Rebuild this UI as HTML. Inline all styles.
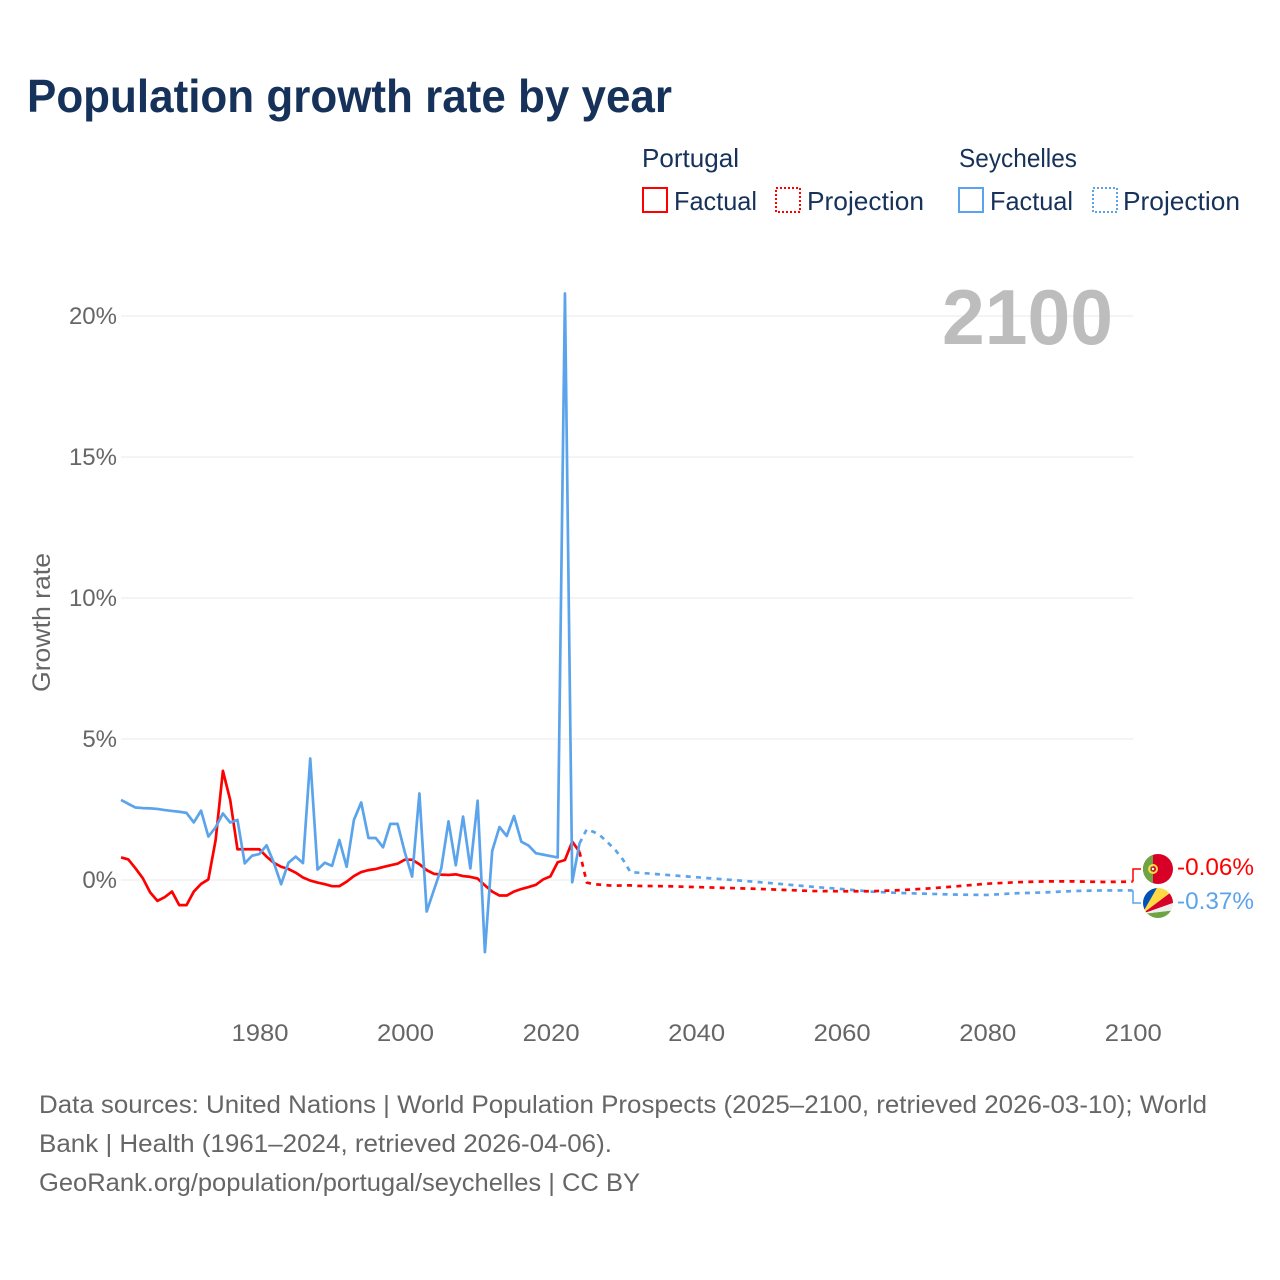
<!DOCTYPE html>
<html lang="en">
<head>
<meta charset="utf-8">
<title>Population growth rate by year</title>
<style>
  html, body { margin: 0; padding: 0; background: #fff; }
  svg { display: block; font-family: "Liberation Sans", sans-serif; }
</style>
</head>
<body>
<svg id="chart" xmlns="http://www.w3.org/2000/svg" width="1280" height="1280" viewBox="0 0 1280 1280">
  <text x="27" y="112" font-size="46" font-weight="700" fill="#17325a" textLength="645" lengthAdjust="spacingAndGlyphs">Population growth rate by year</text>

  <g font-size="26" fill="#17325a">
    <text x="642" y="167" textLength="97" lengthAdjust="spacingAndGlyphs">Portugal</text>
    <text x="959" y="167" textLength="118" lengthAdjust="spacingAndGlyphs">Seychelles</text>
    <g>
      <rect x="643" y="188" width="24" height="24" fill="none" stroke="#ff0000" stroke-width="2"/>
      <text x="674" y="210" textLength="83" lengthAdjust="spacingAndGlyphs">Factual</text>
    </g>
    <g>
      <rect x="776" y="188" width="24" height="24" fill="none" stroke="#ff0000" stroke-width="2" stroke-dasharray="2 2"/>
      <text x="807" y="210" textLength="117" lengthAdjust="spacingAndGlyphs">Projection</text>
    </g>
    <g>
      <rect x="959" y="188" width="24" height="24" fill="none" stroke="#5ba4ec" stroke-width="2"/>
      <text x="990" y="210" textLength="83" lengthAdjust="spacingAndGlyphs">Factual</text>
    </g>
    <g>
      <rect x="1093" y="188" width="24" height="24" fill="none" stroke="#5ba4ec" stroke-width="2" stroke-dasharray="2 2"/>
      <text x="1123" y="210" textLength="117" lengthAdjust="spacingAndGlyphs">Projection</text>
    </g>
  </g>

  <g id="grid"></g>
  <g id="y-ticks" font-size="24" fill="#666666" text-anchor="end"></g>
  <g id="x-ticks" font-size="24" fill="#666666" text-anchor="middle"></g>

  <text transform="translate(50,622.5) rotate(-90)" font-size="25" fill="#666666" text-anchor="middle" textLength="139" lengthAdjust="spacingAndGlyphs">Growth rate</text>

  <text x="942" y="344" font-size="78" font-weight="700" fill="#bdbdbd" textLength="171" lengthAdjust="spacingAndGlyphs">2100</text>

  <g id="series"></g>

  <g>
    <path id="connector-portugal" fill="none" stroke="#ff0000" stroke-width="1.5"/>
    <path id="connector-seychelles" fill="none" stroke="#5ba4ec" stroke-width="1.5"/>

    <defs>
      <clipPath id="clip-pt"><circle cx="1158" cy="869" r="15"/></clipPath>
      <clipPath id="clip-sc"><circle cx="1158" cy="903" r="15"/></clipPath>
    </defs>
    <g clip-path="url(#clip-pt)">
      <rect x="1143" y="854" width="30" height="30" fill="#d80027"/>
      <rect x="1143" y="854" width="10" height="30" fill="#6da544"/>
      <circle cx="1153" cy="869" r="4" fill="none" stroke="#ffda44" stroke-width="2"/>
      <rect x="1151.5" y="867.5" width="3" height="3" fill="#f3f3f3" stroke="#d80027" stroke-width="0.8"/>
    </g>
    <g clip-path="url(#clip-sc)">
      <rect x="1143" y="888" width="30" height="30" fill="#eeeeee"/>
      <polygon points="1142,914 1142,888 1158,888" fill="#0052b4"/>
      <polygon points="1142,914 1158,886 1172,886 1170,893" fill="#ffda44"/>
      <polygon points="1142,914 1170,893 1176,895 1176,902" fill="#d80027"/>
      <polygon points="1142,914 1176,910 1176,920 1142,920" fill="#6da544"/>
      <polygon points="1142,914 1176,902 1176,910" fill="#eeeeee"/>
    </g>
    <text x="1177" y="875" font-size="24" fill="#ff0000" textLength="77" lengthAdjust="spacingAndGlyphs">-0.06%</text>
    <text x="1177" y="909" font-size="24" fill="#5ba4ec" textLength="77" lengthAdjust="spacingAndGlyphs">-0.37%</text>
  </g>

  <g font-size="25" fill="#666666">
    <text x="39" y="1113" textLength="1168" lengthAdjust="spacingAndGlyphs">Data sources: United Nations | World Population Prospects (2025–2100, retrieved 2026-03-10); World</text>
    <text x="39" y="1152" textLength="573" lengthAdjust="spacingAndGlyphs">Bank | Health (1961–2024, retrieved 2026-04-06).</text>
    <text x="39" y="1191" textLength="601" lengthAdjust="spacingAndGlyphs">GeoRank.org/population/portugal/seychelles | CC BY</text>
  </g>
</svg>

<script>
const yTickValues = [0, 5, 10, 15, 20];
const yTickLabels = ["0%", "5%", "10%", "15%", "20%"];
const xTickYears = [1980, 2000, 2020, 2040, 2060, 2080, 2100];

const factualStartYear = 1961;
const portugalFactual = [
  0.80, 0.73, 0.41, 0.06, -0.44, -0.74, -0.61, -0.41, -0.89, -0.89,
  -0.41, -0.14, 0.02, 1.42, 3.87, 2.84, 1.09, 1.09, 1.09, 1.09,
  0.83, 0.61, 0.47, 0.39, 0.26, 0.09, -0.02, -0.09, -0.15, -0.22,
  -0.22, -0.06, 0.14, 0.28, 0.35, 0.39, 0.46, 0.52, 0.58, 0.72,
  0.72, 0.56, 0.35, 0.22, 0.19, 0.18, 0.20, 0.14, 0.11, 0.05,
  -0.19, -0.41, -0.55, -0.55, -0.41, -0.32, -0.25, -0.17, 0.02, 0.13,
  0.63, 0.71, 1.36, 1.00
];
const seychellesFactual = [
  2.84, 2.70, 2.57, 2.55, 2.54, 2.52, 2.48, 2.45, 2.42, 2.38,
  2.04, 2.46, 1.54, 1.87, 2.36, 2.04, 2.13, 0.59, 0.86, 0.92,
  1.23, 0.61, -0.15, 0.61, 0.83, 0.60, 4.31, 0.37, 0.61, 0.50,
  1.42, 0.47, 2.13, 2.75, 1.49, 1.49, 1.16, 1.99, 1.99, 0.98,
  0.12, 3.07, -1.12, -0.35, 0.41, 2.08, 0.52, 2.25, 0.41, 2.81,
  -2.56, 1.03, 1.88, 1.56, 2.27, 1.36, 1.22, 0.95, 0.90, 0.85,
  0.80, 20.8, -0.08, 1.30
];

const projectionYears = [2024, 2025, 2026, 2027, 2028, 2029, 2030, 2031, 2032, 2036, 2040, 2044, 2048, 2052, 2056, 2060, 2064, 2068, 2072, 2076, 2080, 2084, 2088, 2092, 2096, 2100];
const portugalProjection = [1.00, -0.09, -0.15, -0.17, -0.19, -0.20, -0.19, -0.19, -0.21, -0.22, -0.25, -0.28, -0.31, -0.35, -0.39, -0.40, -0.40, -0.36, -0.30, -0.22, -0.13, -0.08, -0.05, -0.05, -0.07, -0.06];
const seychellesProjection = [1.30, 1.80, 1.70, 1.54, 1.30, 1.04, 0.71, 0.28, 0.26, 0.18, 0.10, 0.02, -0.06, -0.15, -0.24, -0.32, -0.41, -0.46, -0.49, -0.52, -0.53, -0.47, -0.44, -0.39, -0.37, -0.37];

function xScale(year) { return 259.3 + (year - 1980) * 7.2775; }
function yScale(value) { return 880 - value * 28.2; }

const SVGNS = "http://www.w3.org/2000/svg";
const COLOR_PT = "#ff0000";
const COLOR_SC = "#5ba4ec";

function linePath(years, values) {
  return values.map(function (v, i) {
    return (i ? "L" : "M") + xScale(years[i]).toFixed(2) + " " + yScale(v).toFixed(2);
  }).join(" ");
}

const factualYears = portugalFactual.map(function (_, i) { return factualStartYear + i; });

const gridGroup = document.getElementById("grid");
const yTickGroup = document.getElementById("y-ticks");
yTickValues.forEach(function (v, i) {
  const line = document.createElementNS(SVGNS, "line");
  
  
  line.setAttribute("x1", xScale(factualStartYear));
  line.setAttribute("x2", xScale(2100) + 0.5);
  line.setAttribute("y1", yScale(v));
  line.setAttribute("y2", yScale(v));
  line.setAttribute("stroke", "#e9e9e9");
  line.setAttribute("stroke-width", "1");
  gridGroup.appendChild(line);

  const label = document.createElementNS(SVGNS, "text");
  
  
  label.setAttribute("x", 117);
  label.setAttribute("y", yScale(v) + 8);
  label.textContent = yTickLabels[i];
  yTickGroup.appendChild(label);
});

const xTickGroup = document.getElementById("x-ticks");
xTickYears.forEach(function (year) {
  const label = document.createElementNS(SVGNS, "text");
  
  
  label.setAttribute("x", xScale(year) + 0.7);
  label.setAttribute("y", 1041);
  label.setAttribute("textLength", "57");
  label.setAttribute("lengthAdjust", "spacingAndGlyphs");
  label.textContent = year;
  xTickGroup.appendChild(label);
});

const seriesGroup = document.getElementById("series");
function addLine(d, color, dashed, name) {
  const p = document.createElementNS(SVGNS, "path");
  
  
  p.setAttribute("d", d);
  p.setAttribute("fill", "none");
  p.setAttribute("stroke", color);
  p.setAttribute("stroke-width", "2.7");
  p.setAttribute("stroke-linejoin", "round");
  if (dashed) p.setAttribute("stroke-dasharray", "5 5.3");
  seriesGroup.appendChild(p);
}
addLine(linePath(projectionYears, seychellesProjection), COLOR_SC, true, "line-seychelles-projection");
addLine(linePath(projectionYears, portugalProjection), COLOR_PT, true, "line-portugal-projection");
addLine(linePath(factualYears, portugalFactual), COLOR_PT, false, "line-portugal-factual");
addLine(linePath(factualYears, seychellesFactual), COLOR_SC, false, "line-seychelles-factual");

const endX = xScale(2100) + 0.4;
document.getElementById("connector-portugal").setAttribute("d",
  "M" + endX + " " + yScale(portugalProjection[portugalProjection.length - 1]) + " V869 H1141");
document.getElementById("connector-seychelles").setAttribute("d",
  "M" + endX + " " + yScale(seychellesProjection[seychellesProjection.length - 1]) + " V903 H1141");
</script>
</body>
</html>
